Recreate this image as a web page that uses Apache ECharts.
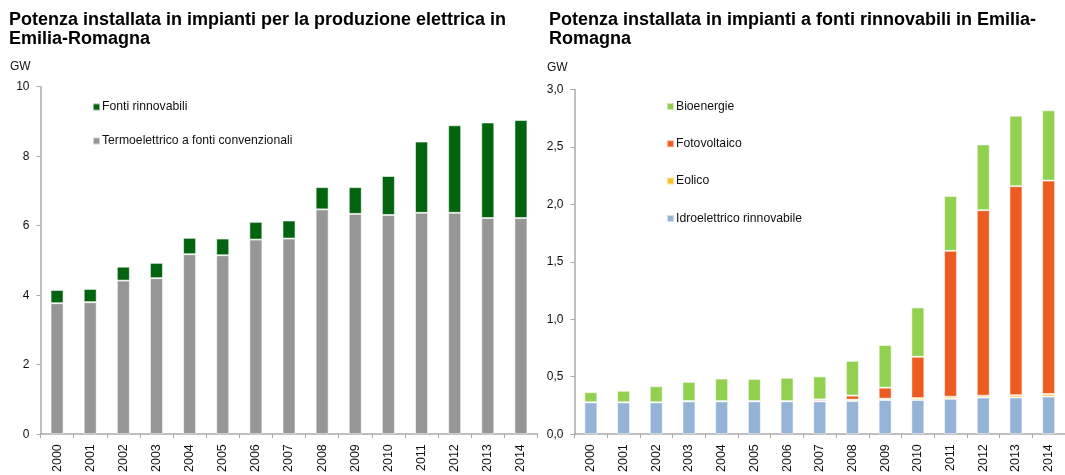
<!DOCTYPE html>
<html>
<head>
<meta charset="utf-8">
<script src="https://cdn.jsdelivr.net/npm/echarts@6/dist/echarts.min.js"></script>
<style>
  body { margin: 0; background: #fff; }
  #myECharts { width: 1065px; height: 475px; }
</style>
</head>
<body>
<div id="myECharts"></div>
<script>
// anni (asse x di entrambi i grafici)
var years = ['2000', '2001', '2002', '2003', '2004', '2005', '2006', '2007',
  '2008', '2009', '2010', '2011', '2012', '2013', '2014']

// grafico di sinistra, GW
var termoelettrico = [3.77, 3.80, 4.42, 4.49, 5.18, 5.15, 5.60, 5.63, 6.47, 6.34, 6.31, 6.37, 6.37, 6.22, 6.22]
var fontiRinnovabili = [0.38, 0.38, 0.40, 0.44, 0.47, 0.48, 0.51, 0.52, 0.64, 0.77, 1.12, 2.05, 2.52, 2.75, 2.82]

// grafico di destra, GW
var idroelettrico = [0.277, 0.277, 0.277, 0.286, 0.286, 0.286, 0.286, 0.286, 0.288, 0.297, 0.297, 0.308, 0.319, 0.319, 0.328]
var eolico = [0.001, 0.001, 0.001, 0.002, 0.002, 0.002, 0.002, 0.003, 0.012, 0.012, 0.017, 0.018, 0.016, 0.02, 0.022]
var fotovoltaico = [0, 0, 0, 0, 0, 0, 0, 0.014, 0.036, 0.096, 0.36, 1.27, 1.615, 1.82, 1.857]
var bioenergie = [0.088, 0.1, 0.14, 0.167, 0.196, 0.193, 0.203, 0.2, 0.302, 0.371, 0.429, 0.477, 0.572, 0.612, 0.612]

var leftTicks = { min: 0, max: 10, interval: 2 }
var rightTicks = { min: 0, max: 3, interval: 0.5 }

var font = 'Liberation Sans, Arial, sans-serif'
var axisColor = '#a9a9a9'
var barBorder = 'rgba(255,255,255,0.55)'

function xAxisFor(gridIndex) {
  return {
    type: 'category',
    gridIndex: gridIndex,
    data: years,
    axisLine: { lineStyle: { color: axisColor, width: 1.5 } },
    axisTick: { show: true, length: 4, lineStyle: { color: axisColor } },
    axisLabel: {
      interval: 0,
      rotate: 90,
      margin: 10,
      fontSize: 12.5,
      color: '#111',
      fontFamily: font
    }
  }
}

function yAxisFor(gridIndex, ticks, formatter) {
  return {
    type: 'value',
    gridIndex: gridIndex,
    min: ticks.min,
    max: ticks.max,
    interval: ticks.interval,
    splitLine: { show: false },
    axisLine: { show: true, lineStyle: { color: axisColor, width: 1.5 } },
    axisTick: { show: true, length: 4, lineStyle: { color: axisColor } },
    axisLabel: {
      margin: 11,
      fontSize: 12,
      color: '#111',
      fontFamily: font,
      formatter: formatter
    }
  }
}

function barSeries(name, color, data, axisIndex, stack) {
  return {
    name: name,
    type: 'bar',
    stack: stack,
    xAxisIndex: axisIndex,
    yAxisIndex: axisIndex,
    barWidth: 13,
    itemStyle: { color: color, borderColor: barBorder, borderWidth: 1 },
    data: data
  }
}

var titleStyle = { fontSize: 18, fontWeight: 'bold', lineHeight: 18.5, color: '#000', fontFamily: font }
var unitStyle = { fontSize: 12, fontWeight: 'normal', color: '#111', fontFamily: font }
var legendText = { fontSize: 12.2, lineHeight: 14, color: '#111', fontFamily: font, padding: [0, 0, 0, -3] }

var option = {
  animation: false,
  backgroundColor: '#fff',
  title: [
    { text: 'Potenza installata in impianti per la produzione elettrica in\nEmilia-Romagna',
      left: 9, top: 11, padding: 0, textStyle: titleStyle },
    { text: 'Potenza installata in impianti a fonti rinnovabili in Emilia-\nRomagna',
      left: 549, top: 11, padding: 0, textStyle: titleStyle },
    { text: 'GW', left: 10, top: 61, padding: 0, textStyle: unitStyle },
    { text: 'GW', left: 547, top: 62, padding: 0, textStyle: unitStyle }
  ],
  legend: [
    {
      orient: 'vertical',
      left: 92,
      top: 100,
      padding: 0,
      itemWidth: 7,
      itemHeight: 7,
      itemGap: 20,
      icon: 'rect',
      textStyle: legendText,
      data: ['Fonti rinnovabili', 'Termoelettrico a fonti convenzionali']
    },
    {
      orient: 'vertical',
      left: 666,
      top: 99.5,
      padding: 0,
      itemWidth: 7,
      itemHeight: 7,
      itemGap: 23.3,
      icon: 'rect',
      textStyle: legendText,
      data: ['Bioenergie', 'Fotovoltaico', 'Eolico', 'Idroelettrico rinnovabile']
    }
  ],
  grid: [
    { left: 40.5, width: 497, top: 86.7, bottom: 38.3 },
    { left: 574.5, width: 501, top: 89.5, bottom: 37.5 }
  ],
  xAxis: [xAxisFor(0), xAxisFor(1)],
  yAxis: [
    yAxisFor(0, leftTicks, function (v) { return String(v) }),
    yAxisFor(1, rightTicks, function (v) { return v.toFixed(1).replace('.', ',') })
  ],
  series: [
    barSeries('Termoelettrico a fonti convenzionali', '#969696', termoelettrico, 0, 'sx'),
    barSeries('Fonti rinnovabili', '#02640f', fontiRinnovabili, 0, 'sx'),
    barSeries('Idroelettrico rinnovabile', '#95b3d7', idroelettrico, 1, 'dx'),
    barSeries('Eolico', '#f8c12c', eolico, 1, 'dx'),
    barSeries('Fotovoltaico', '#ec5b20', fotovoltaico, 1, 'dx'),
    barSeries('Bioenergie', '#92d050', bioenergie, 1, 'dx')
  ]
}

var myChart = echarts.init(document.getElementById('myECharts'))
myChart.setOption(option, true)
</script>
</body>
</html>
